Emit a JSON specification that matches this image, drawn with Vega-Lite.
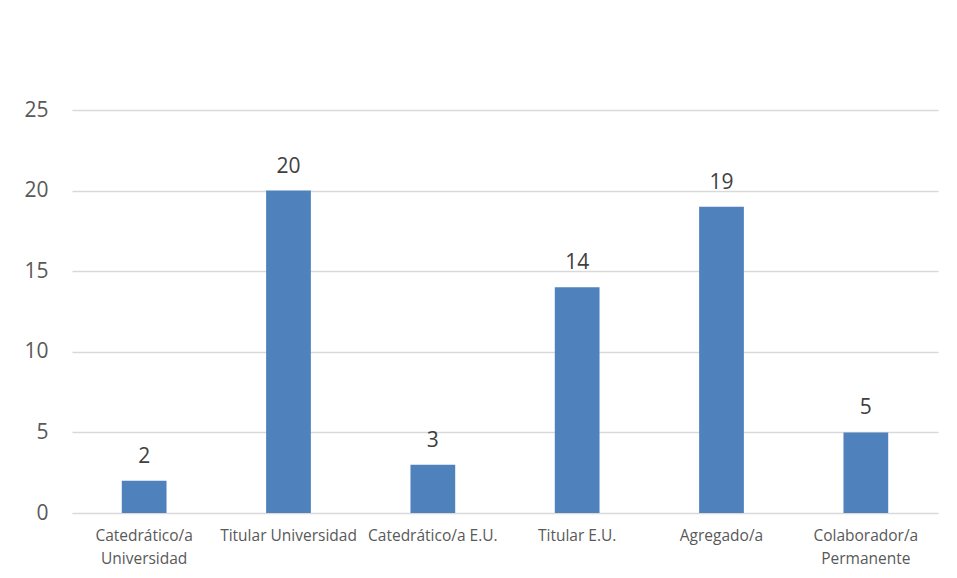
{
  "$schema": "https://vega.github.io/schema/vega-lite/v6.json",
  "width": 866,
  "height": 403,
  "padding": {"left": 72, "top": 110, "right": 19, "bottom": 65},
  "autosize": {"type": "none"},
  "background": "white",
  "config": {
    "view": {"stroke": null},
    "font": "Open Sans",
    "axis": {"labelColor": "#595959", "gridColor": "#d9d9d9", "gridWidth": 1.3, "domain": false, "ticks": false, "title": null}
  },
  "data": {
    "values": [
      {"cat": "Catedrático/a|Universidad", "n": 2},
      {"cat": "Titular Universidad", "n": 20},
      {"cat": "Catedrático/a E.U.", "n": 3},
      {"cat": "Titular E.U.", "n": 14},
      {"cat": "Agregado/a", "n": 19},
      {"cat": "Colaborador/a|Permanente", "n": 5}
    ]
  },
  "encoding": {
    "x": {
      "field": "cat", "type": "nominal", "sort": null,
      "scale": {"paddingInner": 0.69, "paddingOuter": 0.345},
      "axis": {"labelAngle": 0, "labelFontSize": 15.5, "labelPadding": 15, "labelLineHeight": 23, "labelExpr": "split(datum.value, '|')", "grid": false, "labelLimit": 200}
    },
    "y": {
      "field": "n", "type": "quantitative",
      "scale": {"domain": [0, 25]},
      "axis": {"values": [0, 5, 10, 15, 20, 25], "labelFontSize": 21, "labelPadding": 24, "grid": true}
    }
  },
  "layer": [
    {"mark": {"type": "bar", "color": "#4F81BD"}},
    {"mark": {"type": "text", "baseline": "alphabetic", "dy": -18, "fontSize": 21, "color": "#404040"}, "encoding": {"text": {"field": "n"}}}
  ]
}
